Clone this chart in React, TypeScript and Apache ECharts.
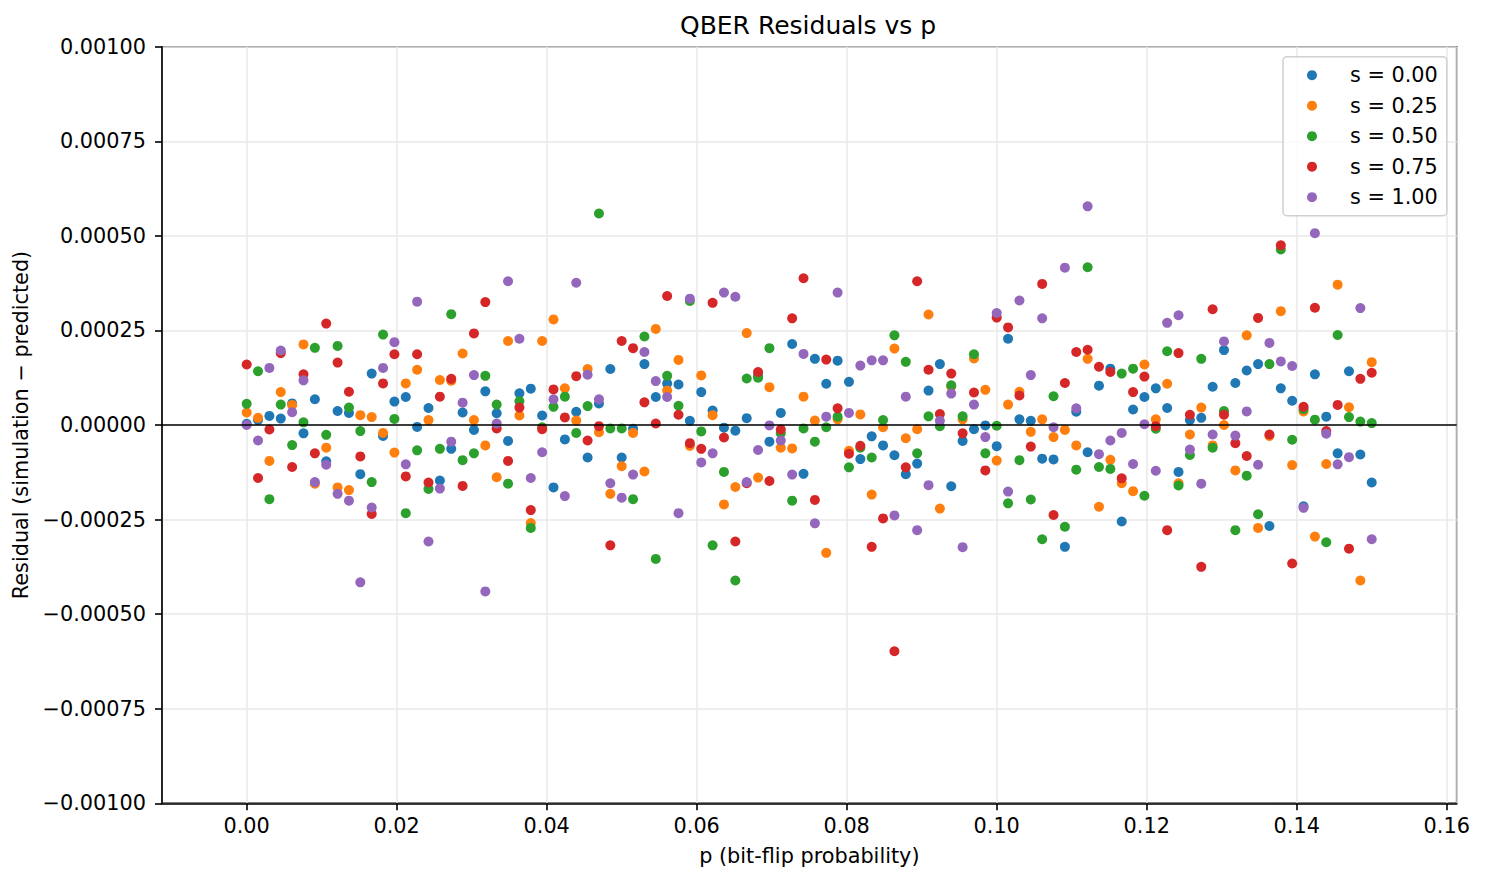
import React, { useEffect, useRef } from "react";
import * as echarts from "echarts";

// p values (bit-flip probability), 100 evenly spaced points in [0, 0.15]
const P = [
  0.0, 0.001515, 0.00303, 0.004545, 0.006061, 0.007576, 0.009091, 0.010606, 0.012121, 0.013636,
  0.015152, 0.016667, 0.018182, 0.019697, 0.021212, 0.022727, 0.024242, 0.025758, 0.027273, 0.028788,
  0.030303, 0.031818, 0.033333, 0.034848, 0.036364, 0.037879, 0.039394, 0.040909, 0.042424, 0.043939,
  0.045455, 0.04697, 0.048485, 0.05, 0.051515, 0.05303, 0.054545, 0.056061, 0.057576, 0.059091,
  0.060606, 0.062121, 0.063636, 0.065152, 0.066667, 0.068182, 0.069697, 0.071212, 0.072727, 0.074242,
  0.075758, 0.077273, 0.078788, 0.080303, 0.081818, 0.083333, 0.084848, 0.086364, 0.087879, 0.089394,
  0.090909, 0.092424, 0.093939, 0.095455, 0.09697, 0.098485, 0.1, 0.101515, 0.10303, 0.104545,
  0.106061, 0.107576, 0.109091, 0.110606, 0.112121, 0.113636, 0.115152, 0.116667, 0.118182, 0.119697,
  0.121212, 0.122727, 0.124242, 0.125758, 0.127273, 0.128788, 0.130303, 0.131818, 0.133333, 0.134848,
  0.136364, 0.137879, 0.139394, 0.140909, 0.142424, 0.143939, 0.145455, 0.14697, 0.148485, 0.15,
];

// Residuals, in units of 1e-4
const S000 = [
  0.03, 0.13, 0.24, 0.17, 0.57, -0.22, 0.68, -0.96, 0.37, 0.32,
  -1.3, 1.36, -0.29, 0.62, 0.74, -0.05, 0.45, -1.47, -0.63, 0.33,
  -0.13, 0.89, 0.31, -0.42, 0.84, 0.96, 0.25, -1.65, -0.38, 0.35,
  -0.86, 0.57, 1.48, -0.86, -0.1, 1.61, 0.74, 1.1, 1.07, 0.11,
  0.87, 0.38, -0.07, -0.15, 0.18, 1.3, -0.44, 0.32, 2.14, -1.29,
  1.75, 1.09, 1.7, 1.14, -0.9, -0.3, -0.54, -0.8, -1.3, -1.02,
  0.91, 1.61, -1.62, -0.42, -0.11, -0.01, -0.56, 2.28, 0.15, 0.11,
  -0.89, -0.91, -3.22, 0.35, -0.72, 1.04, 1.49, -2.55, 0.41, 0.74,
  0.97, 0.45, -1.24, 0.13, 0.19, 1.01, 1.98, 1.11, 1.44, 1.61,
  -2.67, 0.97, 0.64, -2.15, 1.34, 0.22, -0.75, 1.42, -0.78, -1.52,
];
const S025 = [
  0.33, 0.19, -0.95, 0.87, 0.53, 2.13, -1.55, -0.6, -1.65, -1.72,
  0.26, 0.21, -0.21, -0.73, 1.1, 1.46, 0.13, 1.19, 1.17, 1.89,
  0.13, -0.54, -1.38, 2.22, 0.25, -2.59, 2.22, 2.79, 0.97, 0.12,
  1.48, -0.19, -1.82, -1.09, -0.21, -1.23, 2.54, 0.91, 1.72, -0.55,
  1.31, 0.26, -2.1, -1.64, 2.43, -1.39, 1.0, -0.6, -0.62, 0.75,
  0.12, -3.38, 0.15, -0.68, 0.28, -1.84, -0.06, 2.02, -0.35, -0.11,
  2.92, -2.21, 1.02, 0.15, 1.76, 0.93, -0.94, 0.54, 0.88, -0.18,
  0.15, -0.32, -0.13, -0.54, 1.75, -2.16, -0.92, -1.54, -1.75, 1.6,
  0.15, 1.09, -1.54, -0.25, 0.46, -0.54, 0.0, -1.2, 2.37, -2.72,
  -0.29, 3.01, -1.06, 0.36, -2.95, -1.03, 3.71, 0.47, -4.11, 1.66,
];
const S050 = [
  0.56, 1.42, -1.96, 0.54, -0.53, 0.07, 2.04, -0.26, 2.09, 0.46,
  -0.16, -1.51, 2.39, 0.16, -2.33, -0.67, -1.69, -0.63, 2.93, -0.93,
  -0.75, 1.3, 0.54, -1.55, 0.63, -2.72, -0.06, 0.48, 0.75, -0.21,
  0.5, 5.59, -0.09, -0.09, -1.96, 2.34, -3.54, 1.3, 0.51, 3.28,
  -0.17, -3.18, -1.24, -4.11, 1.23, 1.25, 2.03, -0.22, -2.0, -0.09,
  -0.44, -0.06, 0.22, -1.12, -0.6, -0.86, 0.13, 2.37, 1.67, -0.75,
  0.23, -0.03, 1.05, 0.23, 1.87, -0.75, -0.02, -2.07, -0.93, -1.97,
  -3.02, 0.76, -2.69, -1.18, 4.17, -1.11, -1.16, 1.36, 1.49, -1.87,
  -0.1, 1.95, -1.6, -0.79, 1.75, -0.6, 0.37, -2.78, -1.34, -2.36,
  1.61, 4.64, -0.39, 0.42, 0.14, -3.1, 2.38, 0.21, 0.09, 0.05,
];
const S075 = [
  1.6, -1.4, -0.12, 1.9, -1.11, 1.34, -0.75, 2.68, 1.65, 0.88,
  -0.83, -2.35, 1.1, 1.87, -1.36, 1.87, -1.52, 0.75, 1.22, -1.61,
  2.42, 3.25, -0.09, -0.95, 0.46, -2.25, -0.11, 0.94, 0.2, 1.29,
  -0.41, -0.03, -3.18, 2.22, 2.03, 0.6, 0.04, 3.41, 0.27, -0.48,
  -0.63, 3.23, -0.33, -3.08, -1.54, 1.4, -1.48, -0.12, 2.82, 3.88,
  -1.98, 1.73, 0.44, -0.76, -0.55, -3.22, -2.47, -5.98, -1.12, 3.8,
  1.46, 0.29, 1.36, -0.22, 0.86, -1.2, 2.84, 2.58, 0.78, -0.57,
  3.73, -2.38, 1.11, 1.93, 1.99, 1.54, 1.4, -1.41, 0.87, 1.28,
  -0.03, -2.78, 1.9, 0.27, -3.75, 3.06, 0.27, -0.48, -0.82, 2.83,
  -0.25, 4.75, -3.66, 0.48, 3.1, -0.16, 0.53, -3.27, 1.22, 1.38,
];
const S100 = [
  0.0, -0.41, 1.51, 1.97, 0.34, 1.18, -1.51, -1.05, -1.82, -2.0,
  -4.16, -2.18, 1.51, 2.19, -1.04, 3.26, -3.08, -1.68, -0.44, 0.59,
  1.32, -4.4, 0.04, 3.8, 2.28, -1.4, -0.72, 0.68, -1.88, 3.76,
  1.33, 0.68, -1.54, -1.92, -1.31, 1.93, 1.16, 0.74, -2.33, 3.34,
  -0.99, -0.75, 3.5, 3.39, -1.51, -0.66, -0.01, -0.41, -1.31, 1.88,
  -2.6, 0.22, 3.5, 0.32, 1.57, 1.71, 1.71, -2.39, 0.75, -2.78,
  -1.59, 0.11, 0.83, -3.23, 0.54, -0.32, 2.96, -1.76, 3.29, 1.32,
  2.82, -0.06, 4.16, 0.44, 5.78, -0.77, -0.41, -0.21, -1.03, 0.02,
  -1.21, 2.7, 2.9, -0.65, -1.55, -0.25, 2.21, -0.28, 0.36, -1.05,
  2.17, 1.68, 1.56, -2.19, 5.07, -0.23, -1.04, -0.85, 3.09, -3.02,
];

const UNIT = 1e-4;
const SERIES_NAMES = ["s = 0.00", "s = 0.25", "s = 0.50", "s = 0.75", "s = 1.00"];
const SERIES_VALUES = [S000, S025, S050, S075, S100];
const COLORS = ["#1f77b4", "#ff7f0e", "#2ca02c", "#d62728", "#9467bd"];

const TITLE = "QBER Residuals vs p";
const X_NAME = "p (bit-flip probability)";
const Y_NAME = "Residual (simulation \u2212 predicted)";
const X_MIN = -0.01129;
const X_MAX = 0.16133;
const Y_MIN = -0.001;
const Y_MAX = 0.001;
const Y_STEP = 0.00025;

export default function App() {
  const ref = useRef<HTMLDivElement>(null);

  useEffect(() => {
    const chart = echarts.init(ref.current!, null, { renderer: "svg" });
    const font = "'DejaVu Sans', 'Liberation Sans', sans-serif";

    const series: any[] = SERIES_VALUES.map((vals, k) => ({
      name: SERIES_NAMES[k],
      type: "scatter",
      symbol: "circle",
      symbolSize: 10,
      itemStyle: { color: COLORS[k], opacity: 1 },
      emphasis: { disabled: true },
      z: 2 + k,
      data: P.map((p, i) => [p, vals[i] * UNIT]),
    }));
    series[4].markLine = {
      silent: true,
      symbol: ["none", "none"],
      label: { show: false },
      lineStyle: { color: "#000000", width: 1.6, type: "solid" },
      data: [{ yAxis: 0 }],
      z: 10,
    };

    chart.setOption({
      animation: false,
      backgroundColor: "#ffffff",
      textStyle: { fontFamily: font },
      title: {
        text: TITLE,
        left: 675,
        top: 8,
        textStyle: { fontFamily: font, fontSize: 25, fontWeight: "normal", color: "#000000" },
      },
      legend: {
        data: SERIES_NAMES,
        orient: "vertical",
        left: 1283,
        top: 56.7,
        icon: "circle",
        itemWidth: 10,
        itemHeight: 10,
        itemGap: 9.5,
        padding: [8, 9, 8, 24],
        backgroundColor: "rgba(255,255,255,0.8)",
        borderColor: "#d0d0d0",
        borderWidth: 1.5,
        borderRadius: 4,
        selectedMode: false,
        textStyle: {
          fontFamily: font,
          fontSize: 20.8,
          lineHeight: 21,
          color: "#000000",
          padding: [0, 0, 0, 28],
        },
      },
      grid: {
        left: 162,
        top: 46.7,
        width: 1294.7,
        height: 756.6,
        show: true,
        borderColor: "#000000",
        borderWidth: 1.6,
        backgroundColor: "transparent",
      },
      xAxis: {
        type: "value",
        min: X_MIN,
        max: X_MAX,
        splitNumber: 8,
        name: X_NAME,
        nameLocation: "middle",
        nameGap: 42,
        nameTextStyle: { fontFamily: font, fontSize: 20.8, color: "#000000" },
        axisLine: { show: true, onZero: false, lineStyle: { color: "#000000", width: 1.6 } },
        axisTick: { show: true, inside: false, length: 7, lineStyle: { color: "#000000", width: 1.6 } },
        axisLabel: {
          show: true,
          margin: 12,
          fontFamily: font,
          fontSize: 20.8,
          color: "#000000",
          showMinLabel: false,
          showMaxLabel: false,
          formatter: (v: number) => (Math.abs(v) < 1e-12 ? "0.00" : v.toFixed(2)),
        },
        splitLine: { show: true, lineStyle: { color: "#e8e8e8", width: 1.5 } },
      },
      yAxis: {
        type: "value",
        min: Y_MIN,
        max: Y_MAX,
        interval: Y_STEP,
        name: Y_NAME,
        nameLocation: "middle",
        nameGap: 124,
        nameTextStyle: { fontFamily: font, fontSize: 20.8, color: "#000000" },
        axisLine: { show: true, onZero: false, lineStyle: { color: "#000000", width: 1.6 } },
        axisTick: { show: true, inside: false, length: 7, lineStyle: { color: "#000000", width: 1.6 } },
        axisLabel: {
          show: true,
          margin: 16,
          fontFamily: font,
          fontSize: 20.8,
          color: "#000000",
          formatter: (v: number) => {
            if (Math.abs(v) < 1e-12) return "0.00000";
            const s = Math.abs(v).toFixed(5);
            return v < 0 ? "\u2212" + s : s;
          },
        },
        splitLine: { show: true, lineStyle: { color: "#e8e8e8", width: 1.5 } },
      },
      series,
    });

    return () => {
      chart.dispose();
    };
  }, []);

  return (
    <div
      ref={ref}
      style={{ position: "fixed", left: 0, top: 0, width: 1485, height: 882, background: "#ffffff" }}
    />
  );
}
